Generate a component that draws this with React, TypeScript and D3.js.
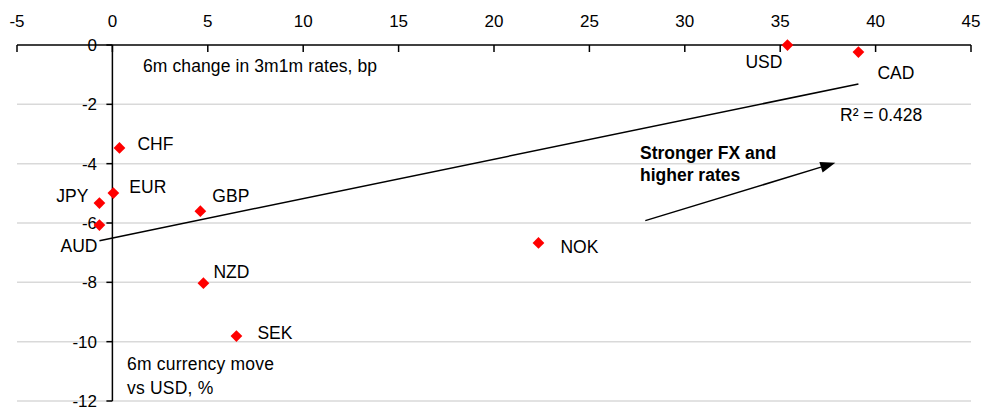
import React from "react";
import * as d3 from "d3";

const currencies = ["USD", "CAD", "CHF", "EUR", "JPY", "AUD", "GBP", "NOK", "NZD", "SEK"];
const rateChange = [35.38, 39.1, 0.37, 0.05, -0.68, -0.68, 4.61, 22.33, 4.77, 6.5];
const fxMove = [0, -0.24, -3.47, -4.99, -5.33, -6.07, -5.6, -6.67, -8.03, -9.81];
// label offsets in px [dx, dy, anchor]
const labelDx = [-5, 19, 18, 16, -11, -2, 12, 22, 10, 21];
const labelDy = [23, 27, 2, 0, -1, 27, -9, 10, -5, 3];
const labelAnchor = ["end", "start", "start", "start", "end", "end", "start", "start", "start", "start"];

const xTicks = [-5, 0, 5, 10, 15, 20, 25, 30, 35, 40, 45];
const yTicks = [0, -2, -4, -6, -8, -10, -12];
const xDomain = [-5, 45];
const yDomain = [-12, 0];

const r2Label = "R² = 0.428";
const arrowStart = [27.93, -5.92];
const arrowEnd = [37.89, -3.97];

const W = 996;
const H = 413;
const FONT = "'Liberation Sans', Arial, sans-serif";

export default function App() {
  const x = d3.scaleLinear().domain(xDomain).range([17, 971]);
  const y = d3.scaleLinear().domain(yDomain).range([401, 45]);

  // linear regression
  const n = rateChange.length;
  const mx = d3.mean(rateChange) as number;
  const my = d3.mean(fxMove) as number;
  let sxy = 0, sxx = 0;
  for (let i = 0; i < n; i++) {
    sxy += (rateChange[i] - mx) * (fxMove[i] - my);
    sxx += (rateChange[i] - mx) ** 2;
  }
  const slope = sxy / sxx;
  const intercept = my - slope * mx;
  const [xmin, xmax] = d3.extent(rateChange) as [number, number];
  const line = d3.line<number>().x((v) => x(v)).y((v) => y(intercept + slope * v));

  const diamond = d3.symbol().type(d3.symbolDiamond2).size(88)();

  // arrow
  const ax1 = x(arrowStart[0]), ay1 = y(arrowStart[1]);
  const ax2 = x(arrowEnd[0]), ay2 = y(arrowEnd[1]);
  const ang = Math.atan2(ay2 - ay1, ax2 - ax1);
  const hl = 15, hw = 5.5;
  const bx = ax2 - hl * Math.cos(ang), by = ay2 - hl * Math.sin(ang);
  const head = `M${ax2},${ay2}L${bx + hw * Math.sin(ang)},${by - hw * Math.cos(ang)}L${bx - hw * Math.sin(ang)},${by + hw * Math.cos(ang)}Z`;

  const x0 = x(0);
  const y0 = y(0);

  return (
    <svg
      width={W}
      height={H}
      style={{ position: "absolute", left: 0, top: 0, background: "#fff", fontFamily: FONT }}
    >
      {/* gridlines */}
      {yTicks.filter((t) => t !== 0).map((t) => (
        <line key={"g" + t} x1={x(xDomain[0])} x2={x(xDomain[1])} y1={y(t)} y2={y(t)} stroke="#d9d9d9" strokeWidth={1.5} />
      ))}

      {/* y axis */}
      <line x1={x0} x2={x0} y1={y(0)} y2={y(-12)} stroke="#000" strokeWidth={1.5} />
      {yTicks.map((t) => (
        <g key={"y" + t}>
          <line x1={x0 - 6} x2={x0} y1={y(t)} y2={y(t)} stroke="#000" strokeWidth={1.5} />
          <text x={97} y={y(t)} dy="0.36em" textAnchor="end" fontSize={17} fill="#000">
            {t}
          </text>
        </g>
      ))}

      {/* x axis */}
      <line x1={x(xDomain[0])} x2={x(xDomain[1])} y1={y0} y2={y0} stroke="#000" strokeWidth={1.5} />
      {xTicks.map((t) => (
        <g key={"x" + t}>
          <line x1={x(t)} x2={x(t)} y1={y0} y2={y0 + 7} stroke="#000" strokeWidth={1.5} />
          <text x={x(t)} y={26.5} textAnchor="middle" fontSize={17} fill="#000">
            {t}
          </text>
        </g>
      ))}

      {/* trend line */}
      <path d={line([xmin, xmax]) as string} stroke="#000" strokeWidth={1.5} fill="none" />

      {/* points */}
      {currencies.map((c, i) => (
        <g key={c}>
          <path d={diamond as string} transform={`translate(${x(rateChange[i])},${y(fxMove[i])})`} fill="#ff0000" />
          <text
            x={x(rateChange[i]) + labelDx[i]}
            y={y(fxMove[i]) + labelDy[i]}
            textAnchor={labelAnchor[i] as any}
            fontSize={17.5}
            fill="#000"
          >
            {c}
          </text>
        </g>
      ))}

      {/* annotations */}
      <text x={143} y={71.5} fontSize={17.5} letterSpacing={0.1} fill="#000">6m change in 3m1m rates, bp</text>
      <text x={127} y={369.5} fontSize={17.5} letterSpacing={0.2} fill="#000">6m currency move</text>
      <text x={127} y={394} fontSize={17.5} letterSpacing={0.2} fill="#000">vs USD, %</text>
      <text x={840} y={121} fontSize={17.5} fill="#000">{r2Label}</text>
      <text x={640} y={159} fontSize={17.5} fontWeight="bold" fill="#000">Stronger FX and</text>
      <text x={640} y={181} fontSize={17.5} fontWeight="bold" fill="#000">higher rates</text>

      {/* arrow */}
      <line x1={ax1} y1={ay1} x2={bx} y2={by} stroke="#000" strokeWidth={1.5} />
      <path d={head} fill="#000" />
    </svg>
  );
}
